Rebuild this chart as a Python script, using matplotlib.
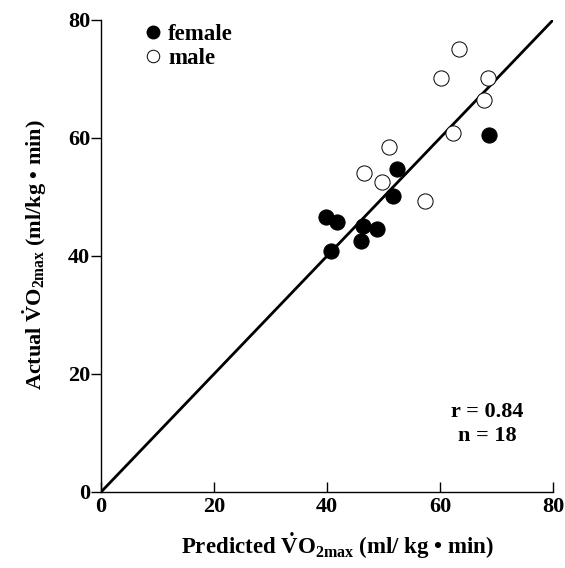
import numpy as np
import matplotlib.pyplot as plt
from matplotlib.lines import Line2D

plt.rcParams['font.family'] = ['Liberation Serif', 'DejaVu Serif']
plt.rcParams['font.weight'] = 'bold'
plt.rcParams['mathtext.fontset'] = 'custom'
plt.rcParams['mathtext.rm'] = 'Liberation Serif:bold'
plt.rcParams['mathtext.bf'] = 'Liberation Serif:bold'
plt.rcParams['mathtext.it'] = 'Liberation Serif:bold'

# predicted vs actual VO2max (ml/kg*min)
female_pred = [68.7, 52.4, 51.7, 39.8, 41.8, 46.4, 48.8, 46.0, 40.7]
female_act = [60.5, 54.7, 50.2, 46.6, 45.8, 45.1, 44.6, 42.5, 40.8]
male_pred = [63.4, 60.2, 68.5, 67.8, 62.3, 51.0, 46.5, 49.7, 57.3]
male_act = [75.1, 70.2, 70.2, 66.4, 60.8, 58.5, 54.1, 52.5, 49.3]
ticks = [0, 20, 40, 60, 80]
r_value = 0.84
n_value = 18

fig = plt.figure(figsize=(5.65, 5.68), dpi=100)
ax = fig.add_axes([0.179, 0.134, 0.8, 0.831])

# identity line
ax.plot([0, 80], [0, 80], color='black', lw=2.0, zorder=1)

ax.scatter(female_pred, female_act, s=120, facecolor='black', edgecolor='black', lw=0.7, zorder=3)
ax.scatter(male_pred, male_act, s=120, facecolor='white', edgecolor='black', lw=0.7, zorder=3)

ax.set_xlim(0, 80)
ax.set_ylim(0, 80)
ax.set_xticks(ticks)
ax.set_yticks(ticks)
ax.tick_params(axis='x', direction='in', length=7, width=1, labelsize=16, pad=4)
ax.tick_params(axis='y', direction='out', length=7, width=1, labelsize=16, pad=1)
for lab in ax.get_xticklabels() + ax.get_yticklabels():
    lab.set_fontweight('bold')

ax.spines['top'].set_visible(False)
ax.spines['right'].set_visible(False)
ax.spines['left'].set_linewidth(1)
ax.spines['bottom'].set_linewidth(1)

ax.set_xlabel(r'Predicted $\dot{\mathbf{V}}\mathbf{O}_{\mathbf{2max}}$ (ml/ kg • min)',
              fontsize=16.5, fontweight='bold')
ax.set_ylabel(r'Actual $\dot{\mathbf{V}}\mathbf{O}_{\mathbf{2max}}$ (ml/kg • min)',
              fontsize=16, fontweight='bold')
ax.xaxis.set_label_coords(0.524, -0.082)
ax.yaxis.set_label_coords(-0.115, 0.502)

ax.text(68.4, 13.5, 'r = ' + str(r_value), ha='center', va='center', fontsize=16, fontweight='bold')
ax.text(68.4, 9.4, 'n = ' + str(n_value), ha='center', va='center', fontsize=16, fontweight='bold')

handles = [
    Line2D([0], [0], marker='o', color='none', markerfacecolor='black', markeredgecolor='black',
           markersize=9, label='female'),
    Line2D([0], [0], marker='o', color='none', markerfacecolor='white', markeredgecolor='black',
           markeredgewidth=0.7, markersize=9, label='male'),
]
leg = ax.legend(handles=handles, loc='upper left', bbox_to_anchor=(0.065, 1.01), frameon=False,
                handletextpad=0.05, labelspacing=0.1, handlelength=1.2, borderaxespad=0,
                prop={'size': 16.5, 'weight': 'bold'})

fig.savefig('out.png', dpi=100)
